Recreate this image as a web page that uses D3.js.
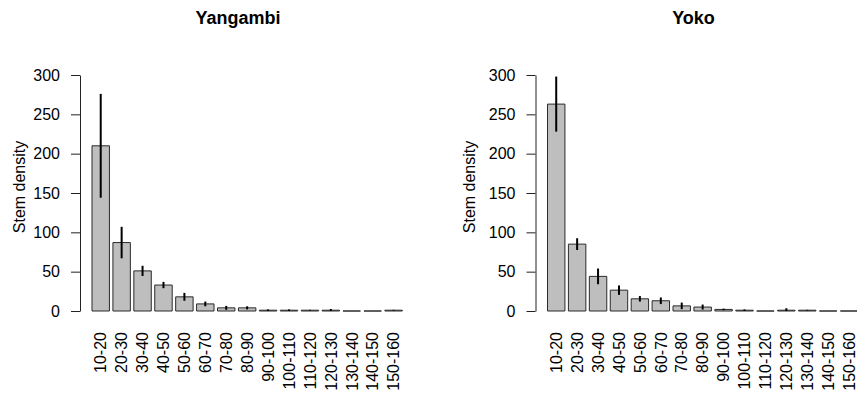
<!DOCTYPE html>
<html>
<head>
<meta charset="utf-8">
<script src="https://cdn.jsdelivr.net/npm/d3@7"></script>
<style>
  html, body { margin: 0; padding: 0; background: #fff; }
  svg { display: block; font-family: "Liberation Sans", Arial, sans-serif; }
</style>
</head>
<body>
<svg id="chart" width="857" height="393"></svg>
<script>
// Diameter classes (cm)
const categories = ["10-20", "20-30", "30-40", "40-50", "50-60", "60-70", "70-80",
  "80-90", "90-100", "100-110", "110-120", "120-130", "130-140", "140-150", "150-160"];

// Mean stem density per class and its error (half-length of the whisker)
const yangambiMean = [210, 87, 51, 33, 18, 9, 4, 4, 1, 1, 1, 1, 0, 0, 1];
const yangambiErr  = [66, 20, 6.5, 4, 5, 3, 2.5, 2, 1, 1, 0.5, 1.5, 0, 0, 0.5];
const yokoMean     = [263, 85, 44, 26.5, 15.5, 13, 6.5, 5, 2, 1, 0, 1, 1, 0, 0];
const yokoErr      = [35, 7.5, 10, 6, 3.5, 4.2, 4.2, 3.2, 1, 1, 0, 2.5, 0.5, 0, 0];

const yTicks = [0, 50, 100, 150, 200, 250, 300];
const yLabel = "Stem density";

const panels = [
  { title: "Yangambi", mean: yangambiMean, err: yangambiErr, dx: 0,     labelX: 25 },
  { title: "Yoko",     mean: yokoMean,     err: yokoErr,     dx: 455.5, labelX: 474.5 }
];

const svg = d3.select("#chart");

panels.forEach(p => {
  const g = svg.append("g").attr("transform", `translate(${p.dx},0)`);

  const x = d3.scaleBand()
    .domain(categories)
    .range([92, 402.3])
    .paddingInner(1 / 6)
    .paddingOuter(0);

  const y = d3.scaleLinear().domain([0, 300]).range([311, 75]);

  const rows = categories.map((c, i) => ({ c, v: p.mean[i], e: p.err[i] }));

  // bars (paths so that zero-height bars still show their outline)
  g.selectAll("path.bar").data(rows).join("path")
    .attr("class", "bar")
    .attr("d", d => {
      const x0 = x(d.c), w = x.bandwidth();
      return `M${x0},${y(0)}V${y(d.v)}H${x0 + w}V${y(0)}Z`;
    })
    .attr("fill", "#bebebe")
    .attr("stroke", "#2a2a2a")
    .attr("stroke-width", 1);

  // error whiskers
  g.selectAll("line.err").data(rows.filter(d => d.e > 0)).join("line")
    .attr("class", "err")
    .attr("x1", d => x(d.c) + x.bandwidth() / 2)
    .attr("x2", d => x(d.c) + x.bandwidth() / 2)
    .attr("y1", d => y(Math.max(0, d.v - d.e)))
    .attr("y2", d => y(d.v + d.e))
    .attr("stroke", "#000")
    .attr("stroke-width", 2);

  // y axis
  const yAxis = d3.axisLeft(y)
    .tickValues(yTicks)
    .tickSize(9)
    .tickSizeOuter(0)
    .tickPadding(11);
  const ya = g.append("g").attr("transform", "translate(80,0)").call(yAxis);
  ya.selectAll("text").attr("font-size", 16).attr("fill", "#000")
    .attr("font-family", "'Liberation Sans', Arial, sans-serif");
  ya.selectAll("line, path").attr("stroke", "#222");

  // category labels (vertical)
  g.selectAll("text.cat").data(categories).join("text")
    .attr("class", "cat")
    .attr("transform", c => `translate(${x(c) + x.bandwidth() / 2},332) rotate(-90)`)
    .attr("dy", "0.36em")
    .attr("text-anchor", "end")
    .attr("font-size", 16)
    .attr("fill", "#000")
    .text(c => c);

  // axis title
  g.append("text")
    .attr("transform", `translate(${p.labelX - p.dx},187) rotate(-90)`)
    .attr("text-anchor", "middle")
    .attr("font-size", 16)
    .attr("fill", "#000")
    .text(yLabel);

  // panel title
  g.append("text")
    .attr("x", 238)
    .attr("y", 24)
    .attr("text-anchor", "middle")
    .attr("font-size", 18)
    .attr("font-weight", "bold")
    .attr("fill", "#000")
    .text(p.title);
});
</script>
</body>
</html>
